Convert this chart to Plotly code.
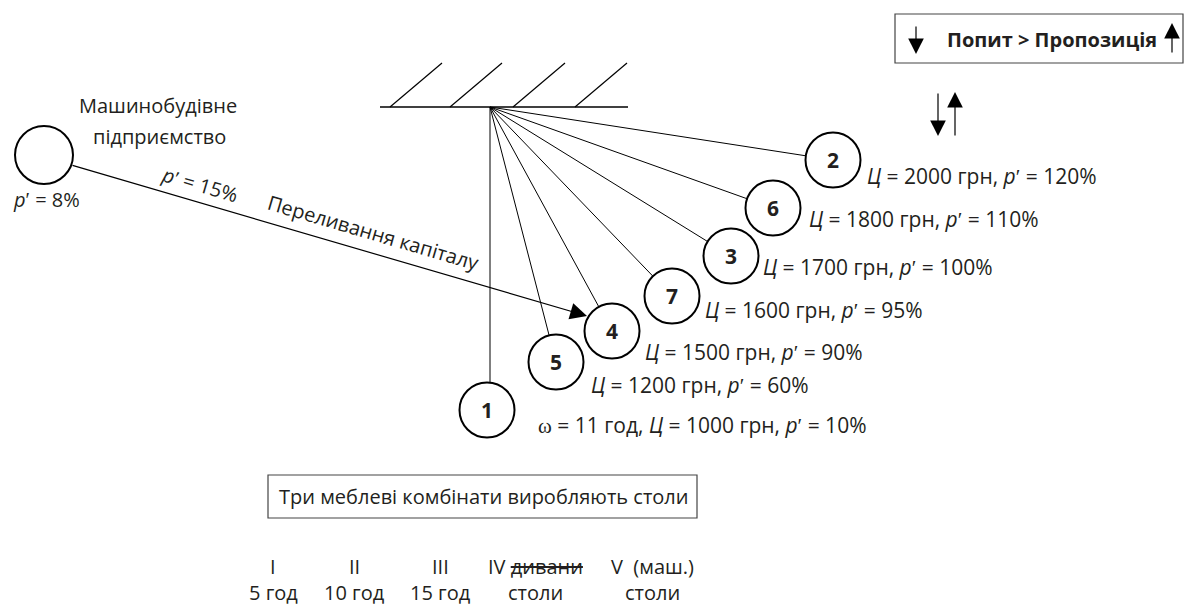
import math
import plotly.graph_objects as go

# ---- data ----
firm_ids = ["2", "6", "3", "7", "4", "5", "1"]
prices = [2000, 1800, 1700, 1600, 1500, 1200, 1000]
profit_rates = [120, 110, 100, 95, 90, 60, 10]
firm1_hours = 11
machine_rate = 8
flow_rate = 15
col_numerals = ["I", "II", "III", "IV", "V  (маш.)"]
col_sub = ["5 год", "10 год", "15 год", "столи", "столи"]
box_top = "Попит > Пропозиція"
box_bottom = "Три меблеві комбінати виробляють столи"
machine_name = ["Машинобудівне", "підприємство"]
flow_label = "Переливання капіталу"

# ---- layout (pixel positions) ----
W, H = 1198, 606
FONT = "Open Sans"
TXT = "#231f20"
pivot = (490, 107)
R = 27.5
circle_centers = [(833, 160), (773, 208), (731, 256), (672, 296), (612, 331), (556, 362), (487, 410)]
label_pos = [(865, 176), (807, 219), (761, 267), (703, 310), (643, 352), (589, 385), (536, 425)]

fig = go.Figure(go.Scatter(x=[0], y=[0], mode="markers", marker=dict(opacity=0), hoverinfo="skip"))
shapes = []
ann = []
line = dict(color="black", width=1.2)

# ceiling
shapes.append(dict(type="line", x0=380, y0=107, x1=628, y1=107, line=dict(color="black", width=1.4)))
for xb in [390, 450, 513, 575]:
    shapes.append(dict(type="line", x0=xb, y0=107, x1=xb + 52, y1=63, line=line))

# pendulum lines and circles
for fid, (cx, cy), price, pr, (lx, ly) in zip(firm_ids, circle_centers, prices, profit_rates, label_pos):
    dx, dy = cx - pivot[0], cy - pivot[1]
    d = math.hypot(dx, dy)
    ex, ey = pivot[0] + dx * (1 - R / d), pivot[1] + dy * (1 - R / d)
    if fid == "1":
        ex, ey = pivot[0], cy - R + 1
    shapes.append(dict(type="line", x0=pivot[0], y0=pivot[1], x1=ex, y1=ey, line=dict(color="black", width=1)))
    shapes.append(dict(type="circle", x0=cx - R, y0=cy - R, x1=cx + R, y1=cy + R,
                       line=dict(color="black", width=2), fillcolor="white", layer="above"))
    ann.append(dict(x=cx, y=cy, text=f"<b>{fid}</b>", showarrow=False,
                    font=dict(family=FONT, size=21, color=TXT)))
    txt = f"<i>Ц</i> = {price} грн, <i>p</i>ʹ = {pr}%"
    if fid == "1":
        txt = f"<span style='font-family:Liberation Serif'>ω</span> = {firm1_hours} год, " + txt
    ann.append(dict(x=lx, y=ly, text=txt, showarrow=False, xanchor="left", yanchor="middle",
                    font=dict(family=FONT, size=21, color=TXT)))

# machine-building enterprise
mc = (44, 155)
shapes.append(dict(type="circle", x0=mc[0] - 29, y0=mc[1] - 29, x1=mc[0] + 29, y1=mc[1] + 29,
                   line=dict(color="black", width=2)))
ann.append(dict(x=158, y=105, text=machine_name[0], showarrow=False, font=dict(family=FONT, size=20, color=TXT)))
ann.append(dict(x=159, y=136, text=machine_name[1], showarrow=False, font=dict(family=FONT, size=20, color=TXT)))
ann.append(dict(x=46, y=199, text=f"<i>p</i>ʹ = {machine_rate}%", showarrow=False,
                font=dict(family=FONT, size=20, color=TXT)))

# capital flow arrow
ann.append(dict(x=587, y=316, ax=71, ay=165, xref="x", yref="y", axref="x", ayref="y", text="",
                showarrow=True, arrowhead=2, arrowsize=2.8, arrowwidth=1.2, arrowcolor="black"))
ang = math.degrees(math.atan2(316 - 165, 587 - 71))
ann.append(dict(x=200, y=184, text=f"<i>p</i>ʹ = {flow_rate}%", showarrow=False, textangle=ang,
                font=dict(family=FONT, size=20, color=TXT)))
ann.append(dict(x=373, y=232, text=flow_label, showarrow=False, textangle=ang,
                font=dict(family=FONT, size=20, color=TXT)))

# top-right box
shapes.append(dict(type="rect", x0=895, y0=14, x1=1183, y1=63, line=dict(color="#444", width=1.2)))
ann.append(dict(x=1052, y=39, text=f"<b>{box_top}</b>", showarrow=False,
                font=dict(family=FONT, size=20, color=TXT)))
for (x, y0, y1) in [(916, 25, 54), (1172, 54, 23), (938, 92, 136), (955, 137, 92)]:
    ann.append(dict(x=x, y=y1, ax=x, ay=y0, xref="x", yref="y", axref="x", ayref="y", text="",
                    showarrow=True, arrowhead=2, arrowsize=2.6, arrowwidth=1.2, arrowcolor="black"))

# bottom box
shapes.append(dict(type="rect", x0=268, y0=475, x1=697, y1=518, line=dict(color="#444", width=1.2)))
ann.append(dict(x=483, y=496, text=box_bottom, showarrow=False, font=dict(family=FONT, size=20, color=TXT)))

col_x = [273, 354, 440, 535, 652]
for x, t, s in zip(col_x, col_numerals, col_sub):
    if t == "IV":
        t = "IV <s>дивани</s>"
    ann.append(dict(x=x, y=566, text=t, showarrow=False, font=dict(family=FONT, size=20, color=TXT)))
    ann.append(dict(x=x, y=592, text=s, showarrow=False, font=dict(family=FONT, size=20, color=TXT)))

fig.update_layout(
    width=W, height=H, margin=dict(l=0, r=0, t=0, b=0),
    paper_bgcolor="white", plot_bgcolor="white", showlegend=False,
    xaxis=dict(range=[0, W], visible=False, fixedrange=True),
    yaxis=dict(range=[H, 0], visible=False, fixedrange=True),
    shapes=shapes, annotations=ann,
)
fig.write_html("out.html", config={"displayModeBar": False},
               post_script="document.body.style.margin='0';document.body.style.overflow='hidden';")
